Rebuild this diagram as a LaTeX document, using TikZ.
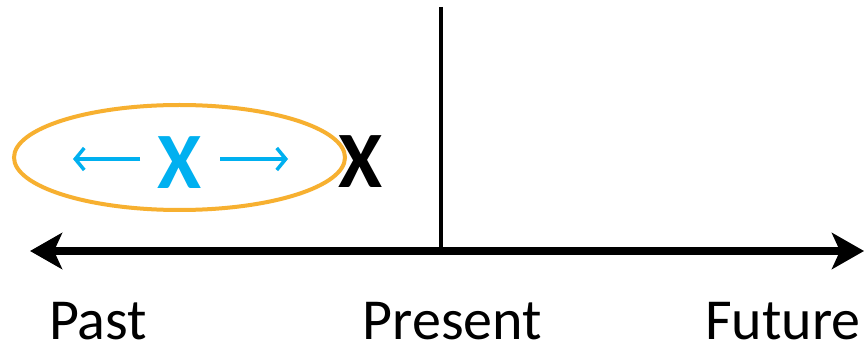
\documentclass[tikz,border=0pt]{standalone}
\usepackage{fontspec}
\setmainfont{Carlito}
\usetikzlibrary{arrows.meta,shapes.geometric}
\definecolor{ringorange}{RGB}{247,176,48}
\definecolor{xblue}{RGB}{0,176,240}
\begin{document}
\begin{tikzpicture}[x=1pt,y=-1pt,
  label/.style={anchor=base,inner sep=0pt,text depth=0pt,font=\fontsize{58}{60}\selectfont},
  bigx/.style={anchor=base,inner sep=0pt,text depth=0pt,font=\fontsize{80}{82}\selectfont\bfseries},
  axis/.style={line width=8pt,{Stealth[length=32pt,width=36pt,inset=8pt]}-{Stealth[length=32pt,width=36pt,inset=8pt]}},
  bluearrow/.style={xblue,line width=4pt,-{Straight Barb[length=9pt,width=22pt,line width=3.5pt]}},
  ring/.style={draw=ringorange,line width=4pt,ellipse,inner sep=0pt,minimum width=331pt,minimum height=105pt}]
\useasboundingbox (0,0) rectangle (866,347);
\fill[white] (0,0) rectangle (866,347);
% axis
\coordinate (L) at (30,251);
\coordinate (R) at (864,251);
\coordinate (top) at (441,7);
\coordinate (mid) at (441,251);
\draw[line width=4.5pt] (top) -- (mid);
\draw[axis] (L) -- (R);
% labels
\node[label] (past) at (98,339) {Past};
\node[label] (present) at (452.5,339) {Present};
\node[label] (future) at (783,339) {Future};
% ellipse
\node[ring] (oval) at (179.5,157.5) {};
% X marks
\node[bigx,text=xblue] (bx) at (180,189) {X};
\node[bigx] (kx) at (361,188) {X};
\coordinate (la) at (140,159);
\coordinate (lt) at (73,159);
\coordinate (ra) at (220,159);
\coordinate (rt) at (288,159);
\draw[bluearrow] (la) -- (lt);
\draw[bluearrow] (ra) -- (rt);
\end{tikzpicture}
\end{document}
